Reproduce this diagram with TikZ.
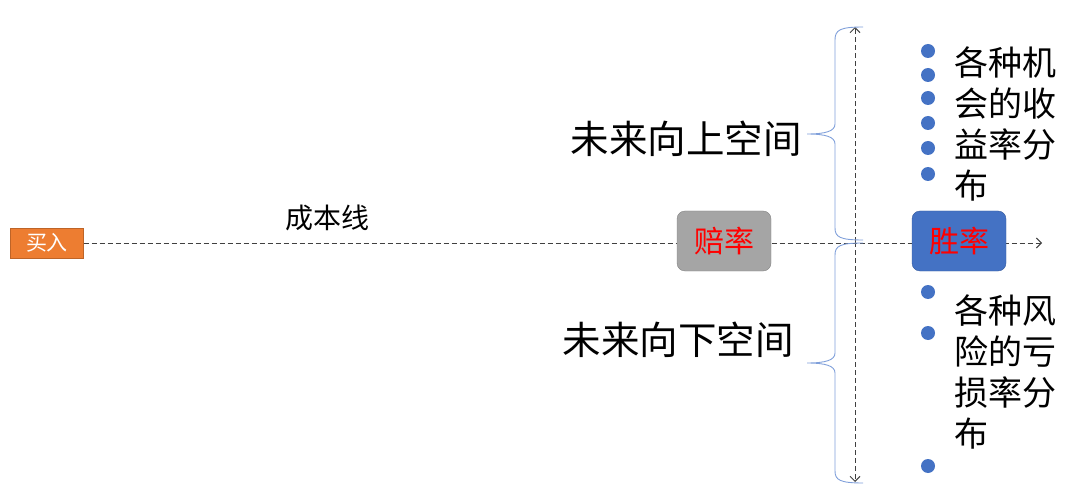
\documentclass[tikz,border=0pt]{standalone}
\usepackage{fontspec}
\setmainfont{Noto Sans CJK SC}
\usepackage{tikz}
\usetikzlibrary{arrows.meta}

\definecolor{buyorange}{HTML}{ED7D31}
\definecolor{oddsgray}{HTML}{A5A5A5}
\definecolor{winblue}{HTML}{4472C4}
\definecolor{braceblue}{HTML}{7F9FDA}
\definecolor{linegray}{HTML}{404040}

\begin{document}
\begin{tikzpicture}[x=1pt,y=-1pt, inner sep=0pt, >={Straight Barb[length=5pt,width=10pt]},
  box/.style={rounded corners=8pt, minimum width=94pt, minimum height=60pt, text=red, font=\fontsize{30}{30}\selectfont},
  cut/.style={draw=linegray, dash pattern=on 5pt off 3pt, line width=1pt},
  brc/.style={draw=braceblue, line width=0.9pt},
  dot/.style={circle, fill=winblue, minimum size=14pt},
  big/.style={font=\fontsize{38.5}{38.5}\selectfont},
  list/.style={anchor=west, align=left, font=\fontsize{34}{41}\selectfont}]
\useasboundingbox (0,0) rectangle (1080,500);
\node (buy) at (47,243) [fill=buyorange, draw=buyorange!80!black, minimum width=73pt, minimum height=30pt, text=white, font=\fontsize{21}{21}\selectfont] {买入};
\coordinate (end) at (1042,243);
\draw[cut, ->] (buy.east) -- (end);
\node (odds) at (724,241) [box, fill=oddsgray, draw=oddsgray!80!black] {赔率};
\node (win) at (959,241) [box, fill=winblue, draw=winblue!80!black] {胜率};
\node (cost) at (327,218) [font=\fontsize{28}{28}\selectfont] {成本线};
% up and down
\coordinate (mid) at (855,242);
\coordinate (up) at (855,27);
\coordinate (down) at (855,482);
\draw[cut, ->] (mid) -- (up);
\draw[cut, ->] (mid) -- (down);
% braces
\coordinate (ut) at (863,27);
\coordinate (ub) at (863,240);
\coordinate (lt) at (863,243);
\coordinate (lb) at (863,483);
\draw[brc] (ut) .. controls (840,27) and (835,30) .. (835,40) -- (835,124)
  .. controls (835,131) and (826,134) .. (807,134) .. controls (826,134) and (835,137) .. (835,144)
  -- (835,228) .. controls (835,237) and (840,240) .. (ub);
\draw[brc] (lt) .. controls (840,243) and (835,246) .. (835,255) -- (835,353)
  .. controls (835,360) and (826,363) .. (807,363) .. controls (826,363) and (835,366) .. (835,373)
  -- (835,471) .. controls (835,480) and (840,483) .. (lb);
\node (upspace) at (686,139) [big] {未来向上空间};
\node (downspace) at (678,340) [big] {未来向下空间};
% bullets
\foreach \y in {51,75,98,123,148,174} \node (u\y) at (928,\y) [dot] {};
\foreach \y in {292,333,466} \node (l\y) at (928,\y) [dot] {};
\node (gain) at (954,124) [list] {各种机\\会的收\\益率分\\布};
\node (loss) at (954,372) [list] {各种风\\险的亏\\损率分\\布};
\end{tikzpicture}
\end{document}
